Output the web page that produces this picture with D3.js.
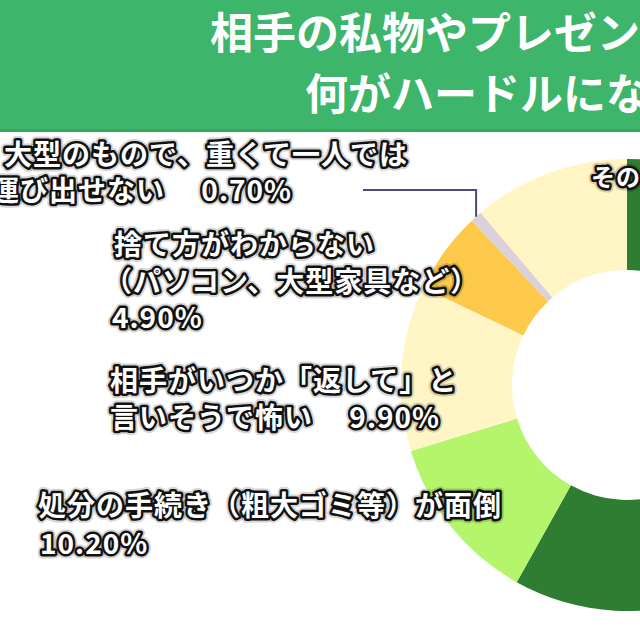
<!DOCTYPE html>
<html>
<head>
<meta charset="utf-8">
<script src="https://cdn.jsdelivr.net/npm/d3@7"></script>
<style>
  body { margin: 0; background: #fff; }
  text { font-family: "Noto Sans CJK JP", "Noto Sans", sans-serif; font-weight: 700; }
</style>
</head>
<body>
<svg id="chart"></svg>
<script>
// data (right half of the donut is cut off)
var categories = ['', '処分の手続き（粗大ゴミ等）が面倒', '相手がいつか「返して」と言いそうで怖い',
    '捨て方がわからない（パソコン、大型家具など）', '大型のもので、重くて一人では運び出せない', 'その他'];
var values = [48.7, 10.2, 9.9, 4.9, 0.7, 9.4];
var percentLabels = ['', '10.20%', '9.90%', '4.90%', '0.70%', ''];
var labelLines = [
    [],
    ['処分の手続き（粗大ゴミ等）が面倒', '10.20%'],
    ['相手がいつか「返して」と', '言いそうで怖い　 9.90%'],
    ['捨て方がわからない', '（パソコン、大型家具など）', '4.90%'],
    ['大型のもので、重くて一人では', '運び出せない　 0.70%'],
    ['その他']
];
var titleLines = ['相手の私物やプレゼントを処分するとき', '何がハードルになった？'];

var colors = ['#2e7d32', '#b4f56c', '#fff5c5', '#fdc94b', '#dcd0da', '#fff5c5'];

// layout
var svgWidth = 640;
var svgHeight = 640;
var cx = 627, cy = 385;
var outerR = 226, innerR = 115;

// label position per line [x, baseline]
var labelPos = [
    [],
    [[38, 516], [40, 554]],
    [[110, 391], [110, 428]],
    [[114, 255], [104, 292], [112, 328]],
    [[4, 165], [-9, 201]],
    [[591, 186]]
];
var labelSize = [28, 28, 28, 28, 28, 24];

var svg = d3.select('#chart')
    .attr('width', svgWidth)
    .attr('height', svgHeight);

// title band
svg.append('rect')
    .attr('x', 0).attr('y', 0)
    .attr('width', svgWidth).attr('height', 132)
    .attr('fill', '#3db56a');
svg.append('rect')
    .attr('x', 0).attr('y', 129)
    .attr('width', svgWidth).attr('height', 3)
    .attr('fill', '#34a961');

svg.selectAll('.title')
    .data(titleLines)
    .enter()
    .append('text')
    .attr('class', 'title')
    .attr('x', function (d, i) { return i === 0 ? 210 : 305; })
    .attr('y', function (d, i) { return i === 0 ? 49 : 110; })
    .attr('font-size', 43)
    .attr('fill', '#fff')
    .text(function (d) { return d; });

// donut
var pie = d3.pie().sort(null).value(function (d) { return d; });
var arc = d3.arc().innerRadius(innerR).outerRadius(outerR);
var arcs = pie(values);

var g = svg.append('g').attr('transform', 'translate(' + cx + ',' + cy + ')');
g.selectAll('path')
    .data(arcs)
    .enter()
    .append('path')
    .attr('d', arc)
    .attr('fill', function (d, i) { return colors[i]; });

// leader line for the thin slice
var thin = arcs[4];
var mid = (thin.startAngle + thin.endAngle) / 2;
var px = cx + Math.sin(mid) * outerR;
var py = cy - Math.cos(mid) * outerR;
svg.append('path')
    .attr('d', 'M363,190 L' + px + ',190 L' + px + ',' + py)
    .attr('fill', 'none')
    .attr('stroke', '#4b4a7d')
    .attr('stroke-width', 2);

// outlined labels
labelLines.forEach(function (lines, i) {
    lines.forEach(function (line, j) {
        var p = labelPos[i][j];
        [['rgba(0,0,0,0.18)', 9], ['#111', 5]].forEach(function (s) {
            svg.append('text')
                .attr('x', p[0])
                .attr('y', p[1])
                .attr('font-size', labelSize[i])
                .attr('letter-spacing', 1)
                .attr('fill', '#fff')
                .attr('stroke', s[0])
                .attr('stroke-width', s[1])
                .attr('stroke-linejoin', 'round')
                .attr('paint-order', 'stroke')
                .text(line);
        });
    });
});
</script>
</body>
</html>
